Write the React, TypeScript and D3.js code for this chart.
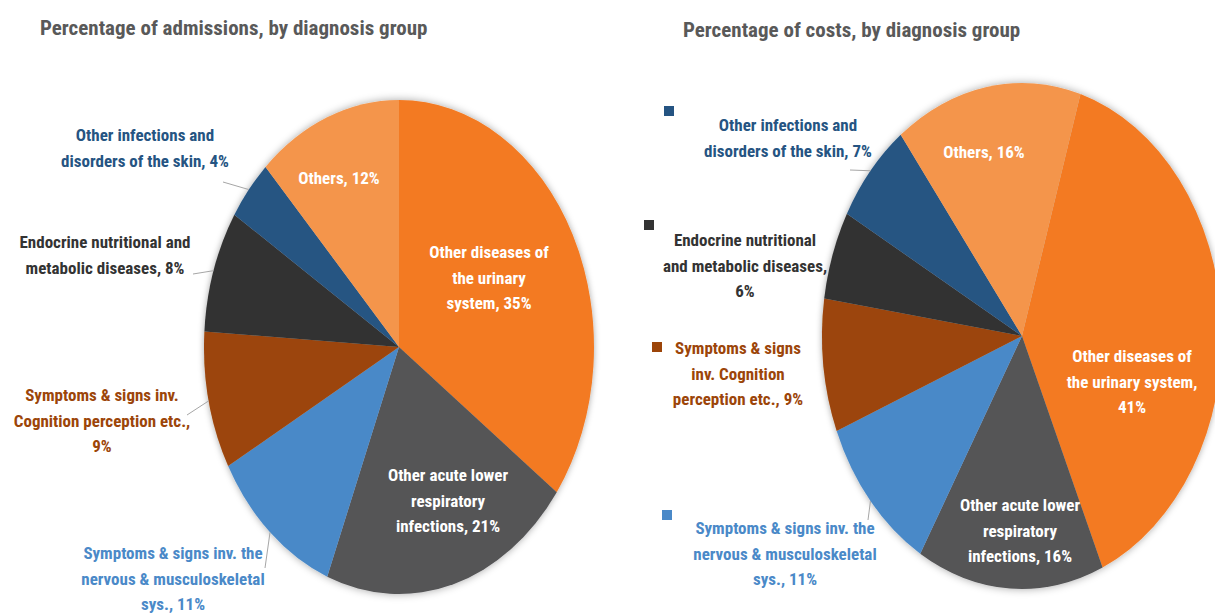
import React, { useRef, useEffect } from 'react';
import * as d3 from 'd3';

// slice order is clockwise, starting from the top (or the given start angle)
const categories = [
  'Other diseases of the urinary system',
  'Other acute lower respiratory infections',
  'Symptoms & signs inv. the nervous & musculoskeletal sys.',
  'Symptoms & signs inv. Cognition perception etc.',
  'Endocrine nutritional and metabolic diseases',
  'Other infections and disorders of the skin',
  'Others',
];
const admissionsPct = [35, 21, 11, 9, 8, 4, 12];
const costsPct = [41, 16, 11, 9, 6, 7, 16];

const sliceColors = ['#f37a21', '#545456', '#4a89c8', '#9c4509', '#333333', '#255482', '#f4954b'];

interface LabelSpec {
  idx: number;
  lines: string[];
  x: number;
  y: number;
  inside?: boolean;
  leader?: [number, number];
  square?: [number, number];
}

interface PieSpec {
  title: string;
  titleX: number;
  titleY: number;
  values: number[];
  cx: number;
  cy: number;
  rx: number;
  ry: number;
  startDeg: number;
  lineHeight: number;
  labels: LabelSpec[];
}

const pies: PieSpec[] = [
  {
    title: 'Percentage of admissions, by diagnosis group',
    titleX: 40,
    titleY: 35,
    values: admissionsPct,
    cx: 399,
    cy: 347,
    rx: 195,
    ry: 247,
    startDeg: 0,
    lineHeight: 25.5,
    labels: [
      { idx: 0, lines: ['Other diseases of', 'the urinary', 'system, 35%'], x: 489, y: 252, inside: true },
      { idx: 1, lines: ['Other acute lower', 'respiratory', 'infections, 21%'], x: 448, y: 475, inside: true },
      { idx: 6, lines: ['Others, 12%'], x: 339, y: 178, inside: true },
      { idx: 5, lines: ['Other infections and', 'disorders of the skin, 4%'], x: 145, y: 135, leader: [223, 182] },
      { idx: 4, lines: ['Endocrine nutritional and', 'metabolic diseases, 8%'], x: 105, y: 242, leader: [193, 274] },
      { idx: 3, lines: ['Symptoms & signs inv.', 'Cognition perception etc.,', '9%'], x: 102, y: 395, leader: [187, 415] },
      { idx: 2, lines: ['Symptoms & signs inv. the', 'nervous & musculoskeletal', 'sys., 11%'], x: 173, y: 553, leader: [265, 568] },
    ],
  },
  {
    title: 'Percentage of costs, by diagnosis group',
    titleX: 683,
    titleY: 37,
    values: costsPct,
    cx: 1022,
    cy: 336,
    rx: 200,
    ry: 253,
    startDeg: 17,
    lineHeight: 25.5,
    labels: [
      { idx: 6, lines: ['Others, 16%'], x: 984, y: 152, inside: true },
      { idx: 0, lines: ['Other diseases of', 'the urinary system,', '41%'], x: 1132, y: 356, inside: true },
      { idx: 1, lines: ['Other acute lower', 'respiratory', 'infections, 16%'], x: 1020, y: 505, inside: true },
      { idx: 5, lines: ['Other infections and', 'disorders of the skin, 7%'], x: 788, y: 125, leader: [850, 170], square: [664, 106] },
      { idx: 4, lines: ['Endocrine nutritional', 'and metabolic diseases,', '6%'], x: 745, y: 240, square: [644, 220] },
      { idx: 3, lines: ['Symptoms & signs', 'inv. Cognition', 'perception etc., 9%'], x: 738, y: 348, square: [652, 342] },
      { idx: 2, lines: ['Symptoms & signs inv. the', 'nervous & musculoskeletal', 'sys., 11%'], x: 785, y: 528, leader: [868, 520], square: [662, 510] },
    ],
  },
];

const FONT = "'Liberation Sans Narrow', 'Arial Narrow', 'Roboto Condensed', sans-serif";

const App: React.FC = () => {
  const svgRef = useRef<SVGSVGElement>(null);
  const width = 1215;
  const height = 614;

  useEffect(() => {
    if (!svgRef.current) return;
    const svg = d3.select(svgRef.current);
    svg.selectAll('*').remove();

    const defs = svg.append('defs');
    defs
      .append('filter')
      .attr('id', 'pie-shadow')
      .attr('x', '-20%')
      .attr('y', '-20%')
      .attr('width', '140%')
      .attr('height', '140%')
      .append('feDropShadow')
      .attr('dx', 0)
      .attr('dy', 0)
      .attr('stdDeviation', 4)
      .attr('flood-color', '#000')
      .attr('flood-opacity', 0.35);

    const colorScale = d3.scaleOrdinal<number, string>().domain(d3.range(categories.length)).range(sliceColors);

    pies.forEach((p) => {
      // title
      svg
        .append('text')
        .attr('x', p.titleX)
        .attr('y', p.titleY)
        .attr('fill', '#595959')
        .attr('font-family', FONT)
        .attr('font-weight', 'bold')
        .attr('font-size', '21px')
        .text(p.title);

      const R = p.ry;
      const start = (p.startDeg * Math.PI) / 180;
      const pie = d3
        .pie<number>()
        .sort(null)
        .value((d) => d)
        .startAngle(start)
        .endAngle(start + 2 * Math.PI);
      const arcs = pie(p.values);
      const arc = d3.arc<d3.PieArcDatum<number>>().innerRadius(0).outerRadius(R);

      // the pie is an ellipse: draw a circle and squash it horizontally
      const g = svg
        .append('g')
        .attr('transform', `translate(${p.cx},${p.cy}) scale(${p.rx / R},1)`)
        .attr('filter', 'url(#pie-shadow)');

      g.selectAll('path')
        .data(arcs)
        .enter()
        .append('path')
        .attr('d', arc)
        .attr('fill', (d, i) => colorScale(i));

      const edgePoint = (i: number): [number, number] => {
        const a = (arcs[i].startAngle + arcs[i].endAngle) / 2;
        return [p.cx + p.rx * Math.sin(a), p.cy - p.ry * Math.cos(a)];
      };

      p.labels.forEach((l) => {
        if (l.leader) {
          const [ex, ey] = edgePoint(l.idx);
          svg
            .append('line')
            .attr('x1', l.leader[0])
            .attr('y1', l.leader[1])
            .attr('x2', ex)
            .attr('y2', ey)
            .attr('stroke', '#a6a6a6')
            .attr('stroke-width', 1);
        }
        if (l.square) {
          svg
            .append('rect')
            .attr('x', l.square[0])
            .attr('y', l.square[1])
            .attr('width', 10)
            .attr('height', 10)
            .attr('fill', colorScale(l.idx));
        }
        const t = svg
          .append('text')
          .attr('text-anchor', 'middle')
          .attr('font-family', FONT)
          .attr('font-weight', 'bold')
          .attr('font-size', '17px')
          .attr('fill', l.inside ? '#ffffff' : colorScale(l.idx));
        l.lines.forEach((line, k) => {
          t.append('tspan')
            .attr('x', l.x)
            .attr('y', l.y + k * p.lineHeight)
            .attr('dominant-baseline', 'central')
            .text(line);
        });
      });
    });
  }, []);

  return (
    <svg
      ref={svgRef}
      width={width}
      height={height}
      style={{ position: 'absolute', left: 0, top: 0, background: '#ffffff' }}
    />
  );
};

export default App;
